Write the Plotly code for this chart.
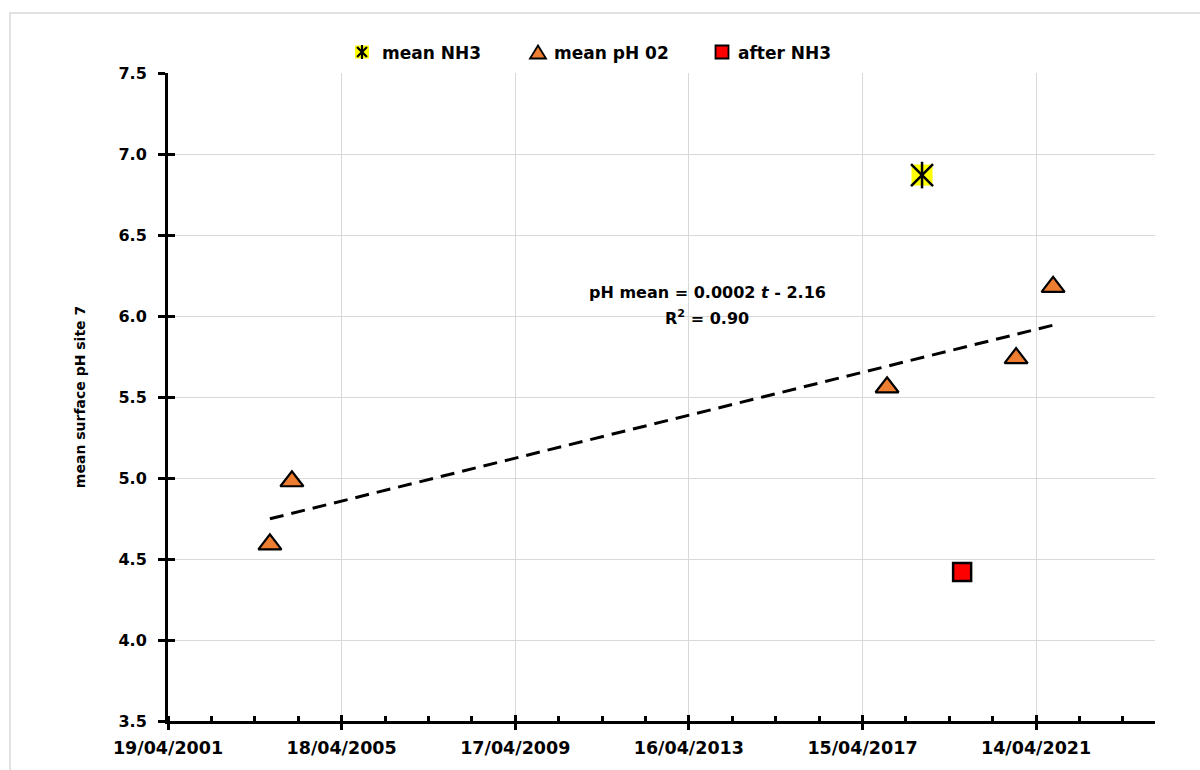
import plotly.graph_objects as go
import numpy as np
import pandas as pd

# ---------------- data ----------------
ph_dates = ["2003-08-24", "2004-02-25", "2017-11-08", "2020-10-28", "2021-09-04"]
ph_values = [4.59, 4.98, 5.56, 5.74, 6.18]
nh3_dates = ["2018-08-29"]
nh3_values = [6.87]
after_dates = ["2019-08-01"]
after_values = [4.42]

series_names = ["mean NH3", "mean pH 02", "after NH3"]
equation_text = "pH mean = 0.0002 <i>t</i> - 2.16"
r2_text = "R<sup>2</sup> = 0.90"
y_title = "mean surface pH site 7"

x_start = "2001-04-19"
x_span_days = 8300
major_days = 1460
minor_days = 365
y_min, y_max, y_step = 3.5, 7.5, 0.5

# ---------------- layout helpers ----------------
L, R, T, B = 168, 1155, 73, 721
W, H = 1200, 770


def px(x):
    return (x - L) / (R - L)


def py(y):
    return (B - y) / (B - T)


DAY_MS = 86400000
x0 = pd.Timestamp(x_start)
x_range = [x0.strftime("%Y-%m-%d"), (x0 + pd.Timedelta(days=x_span_days)).strftime("%Y-%m-%d")]

FONT = "DejaVu Sans"
ORANGE = "#ED7D31"

# trendline from least squares fit of the pH series
t = pd.to_datetime(ph_dates)
tdays = (t - x0).days.values.astype(float)
slope, intercept = np.polyfit(tdays, np.array(ph_values), 1)
tr_x = [t.min(), t.max()]
tr_y = [intercept + slope * tdays.min(), intercept + slope * tdays.max()]

fig = go.Figure()

fig.add_trace(go.Scatter(
    x=tr_x, y=tr_y, mode="lines",
    line=dict(color="black", width=3, dash="14px,8px"),
    showlegend=False, hoverinfo="skip"))

fig.add_trace(go.Scatter(
    x=ph_dates, y=ph_values, mode="markers", name=series_names[1],
    marker=dict(symbol="triangle-up", size=20, color=ORANGE,
                line=dict(color="black", width=2.2)),
    showlegend=False))

fig.add_trace(go.Scatter(
    x=after_dates, y=after_values, mode="markers", name=series_names[2],
    marker=dict(symbol="square", size=18, color="#FF0000",
                line=dict(color="black", width=2.5)),
    showlegend=False))

fig.add_trace(go.Scatter(
    x=nh3_dates, y=nh3_values, mode="markers", name=series_names[0],
    marker=dict(symbol="square", size=21, color="#FFFF00", line=dict(width=0)),
    showlegend=False))
fig.add_trace(go.Scatter(
    x=nh3_dates, y=nh3_values, mode="markers", name=series_names[0],
    marker=dict(symbol="x-thin-open", size=22, color="black",
                line=dict(color="black", width=2.5)),
    showlegend=False))
fig.add_trace(go.Scatter(
    x=nh3_dates, y=nh3_values, mode="markers", name=series_names[0],
    marker=dict(symbol="line-ns-open", size=19, color="black",
                line=dict(color="black", width=2.5)),
    showlegend=False))

# empty trace for overlay axes (crossing ticks)
fig.add_trace(go.Scatter(x=[], y=[], xaxis="x2", yaxis="y2", showlegend=False))

tick_font = dict(family=FONT, size=17.5, color="black", weight="bold")

fig.update_layout(
    width=W, height=H,
    margin=dict(l=L, r=W - R, t=T, b=H - B),
    paper_bgcolor="white", plot_bgcolor="white",
    showlegend=False,
    xaxis=dict(
        type="date", range=x_range, tick0=x_range[0], dtick=major_days * DAY_MS,
        tickformat="%d/%m/%Y", tickfont=tick_font,
        ticks="outside", ticklen=6, tickwidth=3, tickcolor="black",
        showline=True, linecolor="black", linewidth=3,
        showgrid=True, gridcolor="#D9D9D9", gridwidth=1, zeroline=False,
        minor=dict(ticks="inside", ticklen=5, tickwidth=2.5, tickcolor="black",
                   tick0=x_range[0], dtick=minor_days * DAY_MS, showgrid=False),
        ticklabelstandoff=3,
    ),
    yaxis=dict(
        range=[y_min, y_max], tick0=y_min, dtick=y_step, tickformat=".1f",
        tickfont=dict(family=FONT, size=16, color="black", weight="bold"),
        ticks="outside", ticklen=7, tickwidth=3, tickcolor="black",
        showline=True, linecolor="black", linewidth=3,
        showgrid=True, gridcolor="#D9D9D9", gridwidth=1, zeroline=False,
        ticklabelstandoff=8,
        title=dict(text=y_title, font=dict(family=FONT, size=14, color="black", weight="bold"),
                   standoff=30),
    ),
    xaxis2=dict(
        type="date", overlaying="x", anchor="y", side="bottom", range=x_range,
        tick0=x_range[0], dtick=major_days * DAY_MS, ticks="inside", ticklen=6,
        tickwidth=3, tickcolor="black", showticklabels=False, showgrid=False,
        showline=False, zeroline=False,
    ),
    yaxis2=dict(
        overlaying="y", anchor="x", side="left", range=[y_min, y_max], tick0=y_min,
        dtick=y_step, ticks="inside", ticklen=7, tickwidth=3, tickcolor="black",
        showticklabels=False, showgrid=False, showline=False, zeroline=False,
    ),
)

shapes = []
# chart area border
shapes.append(dict(type="rect", xref="paper", yref="paper",
                   x0=px(10), x1=px(1215), y0=py(13), y1=py(785),
                   line=dict(color="#D9D9D9", width=1.5), fillcolor="rgba(0,0,0,0)", layer="below"))

# manual legend symbols
ly = 52
# mean NH3 : yellow box with asterisk
shapes.append(dict(type="rect", xref="paper", yref="paper",
                   x0=px(355), x1=px(369), y0=py(ly - 6.5), y1=py(ly + 6.5),
                   line=dict(width=0), fillcolor="#FFFF00"))
for (xa, ya, xb, yb) in [(362, ly - 7, 362, ly + 7), (357, ly - 5, 367, ly + 5), (357, ly + 5, 367, ly - 5)]:
    shapes.append(dict(type="line", xref="paper", yref="paper",
                       x0=px(xa), y0=py(ya), x1=px(xb), y1=py(yb),
                       line=dict(color="black", width=2.2)))
# mean pH 02 : triangle
shapes.append(dict(type="path", xref="paper", yref="paper",
                   path=f"M {px(530)},{py(ly + 6.5)} L {px(546)},{py(ly + 6.5)} L {px(538)},{py(ly - 6.5)} Z",
                   fillcolor=ORANGE, line=dict(color="black", width=1.8)))
# after NH3 : red square
shapes.append(dict(type="rect", xref="paper", yref="paper",
                   x0=px(715.5), x1=px(728.5), y0=py(ly - 6.5), y1=py(ly + 6.5),
                   fillcolor="#FF0000", line=dict(color="black", width=1.8)))
fig.update_layout(shapes=shapes)

leg_font = dict(family=FONT, size=17, color="black", weight="bold")
annotations = []
for name, xpos in zip(series_names, [380, 552, 736]):
    annotations.append(dict(text=name, xref="paper", yref="paper", x=px(xpos), y=py(ly + 1),
                            xanchor="left", yanchor="middle", showarrow=False, font=leg_font))
eq_font = dict(family=FONT, size=16, color="black", weight="bold")
annotations.append(dict(text=equation_text, xref="paper", yref="paper", x=px(707), y=py(292),
                        xanchor="center", yanchor="middle", showarrow=False, font=eq_font))
annotations.append(dict(text=r2_text, xref="paper", yref="paper", x=px(707), y=py(317),
                        xanchor="center", yanchor="middle", showarrow=False, font=eq_font))
fig.update_layout(annotations=annotations)

fig.write_html("out.html")
